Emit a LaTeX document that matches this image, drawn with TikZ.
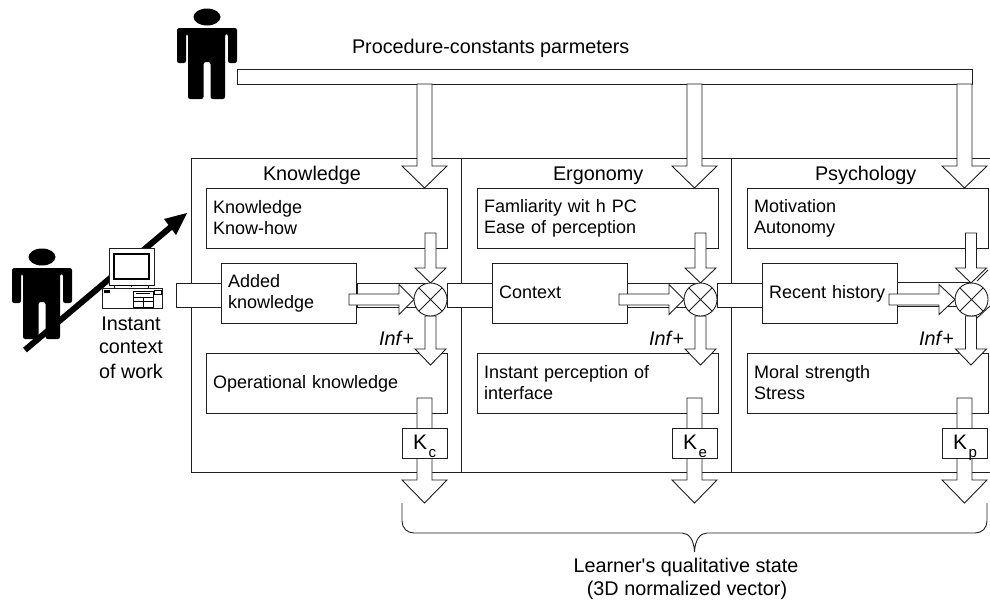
\documentclass[tikz,border=0pt]{standalone}
\usepackage{fontspec}
\setmainfont{Liberation Sans}
\usetikzlibrary{calc}
\newcommand{\bodyfont}{\fontsize{18}{21.7}\selectfont}
\newcommand{\headfont}{\fontsize{19.8}{23.5}\selectfont}
\newcommand{\lnstrut}{\rule{0pt}{14pt}\rule[-2.3pt]{0pt}{2.3pt}}
% block arrow pointing down: centre x, top, head start, tip, shaft half, head half
\newcommand{\blockdown}[6]{\draw[blockarrow] (#1-#5,#2) -- (#1+#5,#2) -- (#1+#5,#3) -- (#1+#6,#3) -- (#1,#4) -- (#1-#6,#3) -- (#1-#5,#3) -- cycle;}
% block arrow pointing right: left x, centre y, head start, tip, shaft half, head half
\newcommand{\blockright}[6]{\draw[blockarrow] (#1,#2-#5) -- (#3,#2-#5) -- (#3,#2-#6) -- (#4,#2) -- (#3,#2+#6) -- (#3,#2+#5) -- (#1,#2+#5) -- cycle;}
\tikzset{
  x=1pt,y=-1pt,
  line/.style={draw=black!88,line width=0.9pt},
  blockarrow/.style={line,fill=white},
  band/.style={line,fill=white},
  panel/.style={line,fill=white,rectangle,anchor=north west,inner sep=0pt,outer sep=0pt,align=left,font=\bodyfont},
  widebox/.style={panel,minimum width=241pt,minimum height=60pt,text width=227pt},
  midbox/.style={panel,minimum width=135pt,minimum height=60pt,text width=121pt},
  gain/.style={line,fill=white,rectangle,anchor=north west,inner sep=0pt,outer sep=0pt,minimum width=45pt,minimum height=30pt},
  mixer/.style={line,fill=white,circle,inner sep=0pt,outer sep=0pt,minimum size=33pt},
  lab/.style={inner sep=0pt,outer sep=0pt,anchor=base west},
  pics/person/.style={code={
    \fill[black] (30,-11) ellipse[x radius=13.5,y radius=8.5];
    \fill[black,rounded corners=2.2pt] (0,0) -- (60,0) -- (60,35) -- (51,35) -- (51,6) -- (48,6) -- (48,71) -- (33.5,71) -- (33.5,34) -- (26.5,34) -- (26.5,71) -- (11,71) -- (11,6) -- (9,6) -- (9,35) -- (0,35) -- cycle;
  }}
}
\begin{document}
\begin{tikzpicture}
\useasboundingbox (0,0) rectangle (990,600);
\coordinate (inL) at (176,283);

% persons and black arrow
\pic at (177,28) {person};
\pic at (12,268) {person};
\draw[black,line width=6pt] (25,350) -- (172,226);
\fill[black] (187,213) -- (164,219) -- (176,235) -- cycle;

% computer
\draw[line,fill=white,line width=0.7pt] (109,248) rectangle (154,285);
\draw[black,fill=white,line width=2.4pt] (114,254) rectangle (149,279);
\draw[line,fill=white,line width=0.7pt] (102,288) rectangle (162,308);
\draw[black,line width=0.7pt] (109,285) -- (154,285) (114,285) -- (114,288) (148,285) -- (148,288) (131,285)--(131,287);
\draw[black,line width=0.7pt] (133,291) rectangle (153,307) (136,293) -- (150,293) (133,297) -- (153,297) (133,301) -- (153,301) (143,297) -- (143,307);
\fill[black] (104,290) rectangle (110,292.5);
\draw[black,line width=0.6pt] (154,290) rectangle (161,294);
\node[lab,anchor=base,font=\headfont] (ctx1) at (131,330) {Instant};
\node[lab,anchor=base,font=\headfont] (ctx2) at (131,353.5) {context};
\node[lab,anchor=base,font=\headfont] (ctx3) at (131,378) {of work};

% top bar
\node[line,fill=white,rectangle,anchor=north west,inner sep=0pt,outer sep=0pt,minimum width=735pt,minimum height=15pt] (bar) at (237,69) {};
\node[lab,font=\headfont] (ptitle) at (352,53) {Procedure-constants parmeters};

% frame
\draw[line] (990,158.5) -- (191.5,158.5) -- (191.5,472.5) -- (990,472.5);
\draw[line] (461.5,158.5) -- (461.5,472.5);
\draw[line] (731.5,158.5) -- (731.5,472.5);

\node[lab,font=\headfont] (hk) at (263,180) {Knowledge};
\node[lab,font=\headfont] (he) at (553,180) {Ergonomy};
\node[lab,font=\headfont] (hp) at (815,180) {Psychology};

% bands
\draw[band] (inL) rectangle (221,307);
\draw[band] (357,283) rectangle (430,307);
\draw[band] (447,283) rectangle (492,307);
\draw[band] (627,283) rectangle (700,307);
\draw[band] (717,283) rectangle (762,307);
\draw[band] (897,282.5) rectangle (971,306);

% boxes
\node[widebox] (k1) at (206,188) {\lnstrut Knowledge\\\lnstrut Know-how};
\node[widebox] (e1) at (477,188) {\lnstrut Famliarity wit h PC\\\lnstrut Ease of perception};
\node[widebox] (p1) at (747,188) {\lnstrut Motivation\\\lnstrut Autonomy};
\node[midbox] (k2) at (221,263) {\lnstrut Added\\\lnstrut knowledge};
\node[midbox] (e2) at (492,263) {\lnstrut Context};
\node[midbox] (p2) at (762,263) {\lnstrut Recent history};
\node[widebox] (k3) at (206,353) {\lnstrut Operational knowledge};
\node[widebox] (e3) at (477,353) {\lnstrut Instant perception of\\\lnstrut interface};
\node[widebox] (p3) at (747,353) {\lnstrut Moral strength\\\lnstrut Stress};

% stray marks beside the last mixer
\draw[line] (988,270) -- (977,281) (977,318) -- (990,306);

% arrows from the top bar
\blockdown{424.5}{84}{166}{188}{7.5}{22.5}
\blockdown{694.5}{84}{166}{188}{7.5}{22.5}
\blockdown{964.5}{84}{166}{188}{7.5}{22.5}

% arrows into and out of mixers
\blockdown{430.5}{233}{268}{283}{5.5}{15.5}
\blockdown{700.5}{233}{268}{283}{5.5}{15.5}
\blockdown{971}{233}{268}{283}{5.5}{15.5}
\blockright{349}{299.5}{399}{414}{5.5}{15}
\blockright{619}{299.5}{669}{684}{5.5}{15}
\blockright{889}{299.5}{939}{955}{5.5}{15}
\blockdown{430.5}{316}{349}{365}{5.5}{15.5}
\blockdown{700.5}{316}{349}{365}{5.5}{15.5}
\blockdown{971}{316}{349}{365}{5.5}{15.5}

% mixers
\foreach \n/\cx in {m1/430.5,m2/700.5,m3/971.5}{
  \node[mixer] (\n) at (\cx,299.5) {};
  \draw[line] (\n.45) -- (\n.225) (\n.135) -- (\n.315);
}

\node[lab,font=\headfont] (i1) at (379,345) {\textit{Inf}+};
\node[lab,font=\headfont] (i2) at (649,345) {\textit{Inf}+};
\node[lab,font=\headfont] (i3) at (919,345) {\textit{Inf}+};

% output arrows and gain boxes
\blockdown{424.5}{398}{480}{503}{7.5}{22.5}
\blockdown{694.5}{398}{480}{503}{7.5}{22.5}
\blockdown{964.5}{398}{480}{503}{7.5}{22.5}
\node[gain] (kc) at (402,428) {};
\node[gain] (ke) at (672,428) {};
\node[gain] (kp) at (942,428) {};
\foreach \n/\x/\s in {kc/413/c,ke/683/e,kp/953/p}{
  \node[lab,font=\fontsize{21}{24}\selectfont] at (\x,449) {K};
  \node[lab,font=\fontsize{15}{18}\selectfont] at (\x+15.5,457) {\s};
}

% brace
\draw[line] (402,503) -- (402,521) .. controls (402,528) and (407,533) .. (414,533)
  -- (682,533) .. controls (689,533) and (694,540) .. (694.5,552)
  .. controls (695,540) and (700,533) .. (707,533) -- (975,533)
  .. controls (982,533) and (987,528) .. (987,521) -- (987,503);
\node[lab,anchor=base,font=\headfont] (st1) at (686,572) {Learner\textquotesingle s qualitative state};
\node[lab,anchor=base,font=\headfont] (st2) at (687,595) {(3D normalized vector)};
\end{tikzpicture}
\end{document}
